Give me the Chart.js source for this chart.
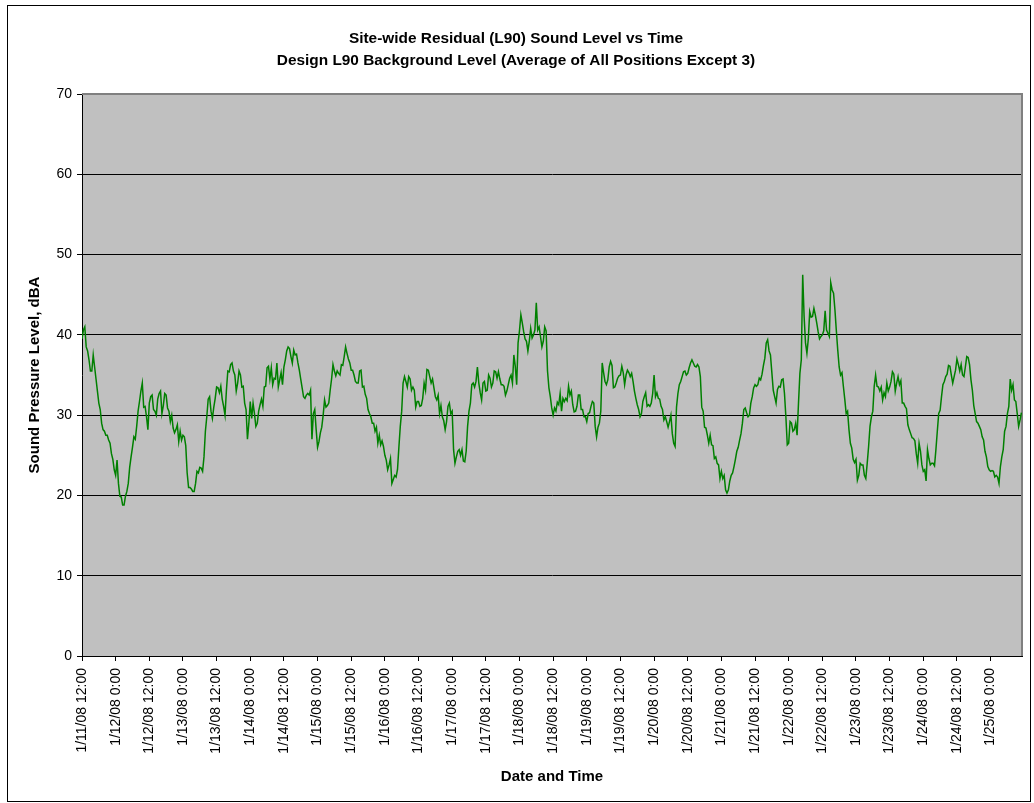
<!DOCTYPE html>
<html><head><meta charset="utf-8">
<script src="https://cdn.jsdelivr.net/npm/chart.js@4.4.1/dist/chart.umd.min.js"></script>
<style>html,body{margin:0;padding:0;background:#fff}#wrap{width:1034px;height:803px;position:relative}</style>
</head><body><div id="wrap"><canvas id="c" width="1034" height="803"></canvas></div>
<script>
const titleLines = ['Site-wide Residual (L90) Sound Level vs Time', 'Design L90 Background Level (Average of All Positions Except 3)'];
const yAxisTitle = 'Sound Pressure Level, dBA';
const xAxisTitle = 'Date and Time';
const tickLabels = ['1/11/08 12:00','1/12/08 0:00','1/12/08 12:00','1/13/08 0:00','1/13/08 12:00','1/14/08 0:00','1/14/08 12:00',
  '1/15/08 0:00','1/15/08 12:00','1/16/08 0:00','1/16/08 12:00','1/17/08 0:00','1/17/08 12:00','1/18/08 0:00','1/18/08 12:00',
  '1/19/08 0:00','1/19/08 12:00','1/20/08 0:00','1/20/08 12:00','1/21/08 0:00','1/21/08 12:00','1/22/08 0:00','1/22/08 12:00',
  '1/23/08 0:00','1/23/08 12:00','1/24/08 0:00','1/24/08 12:00','1/25/08 0:00'];
const tickStepHours = 12;
const yMin = 0, yMax = 70, yStep = 10;
const xMaxHours = 335.2;
// L90 levels (dBA) on the hour, hour 0 = 1/11/08 12:00
const levelsOnHour = [
  39.5, 41.0, 38.0, 35.5, 37.5, 34.5, 31.5, 29.0, 28.0, 27.5,
  26.5, 24.5, 22.5, 21.5, 19.8, 18.8, 20.5, 23.5, 26.0, 27.0,
  30.5, 33.0, 31.0, 29.8, 31.5, 32.5, 30.5, 32.0, 33.0, 31.2,
  32.5, 30.5, 30.0, 27.8, 28.8, 28.0, 27.5, 26.2, 21.0, 20.8,
  20.5, 23.0, 23.5, 23.0, 28.0, 32.0, 30.5, 31.0, 33.5, 32.8,
  32.0, 30.0, 35.5, 36.3, 35.5, 33.0, 35.5,
  33.5, 31.5, 27.0, 31.7, 31.5, 28.6, 30.5, 32.0, 33.5, 35.9,
  34.5, 33.8, 34.5, 33.5, 35.3, 36.0, 38.0, 38.3, 36.5, 37.5,
  36.5, 34.5, 32.3, 32.5, 32.5, 27.0, 30.7, 26.0, 27.8, 30.0,
  31.0, 31.5, 34.5, 35.5, 35.5, 35.0, 36.2, 38.5, 37.0, 35.6,
  35.0, 34.0, 35.5, 33.5, 32.6, 30.7, 29.8, 29.0, 28.5, 27.5,
  26.8, 25.0, 23.2, 24.6, 22.0,
  22.3, 26.0, 30.5, 34.8, 33.5, 34.5, 33.5, 31.0, 31.7, 31.2,
  34.0, 35.7, 34.8, 34.5, 32.3, 32.5, 31.2, 29.3, 29.2, 31.5,
  30.5, 24.0, 25.5, 25.0, 24.3, 25.5, 30.5, 33.8, 33.5, 36.0,
  32.8, 34.0, 33.0, 35.0, 33.5, 35.5, 34.6, 34.5, 33.8, 32.5,
  33.8, 35.0, 37.5, 33.8, 40.5, 41.5, 39.5, 38.0, 40.8, 40.0,
  44.0, 41.0, 38.5, 41.0, 35.5,
  32.3, 30.0, 30.5, 31.3, 30.5, 31.7, 31.8, 32.5, 31.3, 30.5,
  32.5, 30.7, 29.8, 29.2, 30.3, 31.7, 28.6, 28.5, 30.5, 35.3,
  33.8, 36.0, 36.2, 33.5, 34.6, 35.0, 35.3, 35.0, 35.3, 35.2,
  33.0, 31.3, 29.8, 31.7, 32.8, 31.3, 31.5, 35.0, 32.8, 32.0,
  30.7, 29.8, 28.5, 30.0, 26.5, 31.0, 33.8, 34.8, 35.5, 35.2,
  36.5, 36.5, 36.0, 36.0, 31.0,
  28.5, 27.5, 27.5, 26.2, 24.8, 23.8, 23.0, 22.5, 20.3, 21.8,
  22.8, 24.5, 26.0, 27.7, 30.7, 30.3, 30.0, 32.3, 33.8, 33.8,
  34.4, 36.2, 39.0, 38.0, 35.3, 32.3, 33.2, 33.5, 34.5, 29.8,
  26.5, 29.0, 28.2, 27.5, 35.2, 47.5, 39.0, 39.5, 42.2, 43.3,
  41.5, 39.5, 40.0, 43.0, 40.2, 46.5, 45.2, 40.5, 36.0, 35.3,
  32.0, 30.5, 26.5, 24.5, 24.5,
  22.5, 23.8, 22.5, 24.0, 28.6, 30.5, 35.0, 33.5, 33.5, 32.8,
  34.0, 33.5, 35.4, 33.0, 34.8, 34.3, 31.5, 30.8, 28.2, 27.2,
  26.8, 24.0, 25.5, 23.0, 21.8, 24.6, 24.0, 23.7, 28.0, 30.6,
  33.8, 34.8, 36.2, 35.0, 34.8, 37.0, 35.5, 35.0, 36.0, 37.2,
  34.4, 31.2, 29.2, 28.6, 27.3, 25.5, 23.6, 23.0, 23.0, 22.5,
  21.5, 24.8, 28.0, 30.2, 34.5, 33.8, 31.7, 28.6, 30.3
];
// L90 levels (dBA) on the half hour (entry i is hour i + 0.5)
const levelsHalfHour = [
  40.6, 38.5, 36.9, 35.5, 36.0, 33.0, 30.7, 28.2, 27.5, 26.9,
  25.2, 23.2, 24.4, 19.9, 18.8, 19.9, 21.5, 24.8, 27.3, 28.6,
  31.7, 34.0, 31.1, 28.2, 32.3, 30.7, 30.0, 32.7, 30.2, 32.7,
  30.9, 29.2, 28.4, 28.2, 26.7, 26.9, 27.3, 22.8, 21.0, 20.5,
  21.5, 22.8, 23.4, 24.8, 29.8, 32.3, 29.6, 32.1, 33.4, 33.6,
  31.1, 33.1, 35.4, 36.5, 35.0, 34.0, 35.0,
  33.6, 30.7, 29.0, 29.6, 30.2, 29.0, 31.3, 31.1, 33.6, 36.1,
  35.9, 34.6, 36.5, 34.4, 33.8, 36.9, 38.5, 37.3, 38.1, 37.6,
  35.6, 33.4, 32.1, 32.7, 33.1, 30.2, 28.2, 26.7, 28.5, 31.9,
  31.2, 33.1, 36.3, 34.9, 35.2, 36.3, 37.3, 37.7, 36.5, 35.6,
  34.2, 34.0, 35.6, 33.6, 32.1, 30.2, 29.0, 28.0, 26.5, 26.3,
  26.1, 24.4, 23.8, 21.5, 22.5,
  23.2, 28.6, 34.0, 34.2, 34.8, 33.1, 33.1, 31.7, 31.1, 32.1,
  33.1, 35.6, 34.0, 33.4, 31.9, 30.2, 29.8, 28.2, 31.1, 30.2,
  25.7, 24.8, 25.7, 25.7, 24.2, 28.6, 31.5, 34.0, 34.2, 34.0,
  31.9, 34.2, 33.1, 34.6, 34.0, 35.4, 35.4, 33.8, 33.6, 33.0,
  34.6, 34.0, 36.1, 39.0, 42.5, 40.4, 39.2, 39.2, 39.6, 40.6,
  40.6, 39.8, 39.2, 40.5,
  33.4, 30.9, 30.9, 31.6, 32.7, 32.1, 32.1, 33.6, 33.0, 30.4,
  31.1, 32.5, 30.7, 29.8, 30.2, 31.1, 31.5, 27.3, 29.0, 36.5,
  34.2, 34.4, 36.7, 33.4, 34.0, 34.9, 36.1, 33.8, 35.6, 34.8,
  34.2, 32.1, 30.7, 30.2, 32.3, 31.1, 31.1, 32.7, 32.3, 32.1,
  31.1, 29.4, 29.2, 29.2, 27.7, 26.1, 32.7, 34.2, 35.4, 35.0,
  35.9, 36.9, 36.1, 36.3, 34.8,
  30.5, 28.4, 26.5, 26.3, 24.6, 24.0, 22.1, 22.1, 20.7, 20.7,
  22.5, 23.6, 25.5, 26.9, 29.0, 30.9, 29.8, 31.5, 33.4, 33.6,
  34.6, 35.1, 37.1, 39.4, 37.5, 33.1, 31.5, 33.6, 34.4, 32.7,
  26.3, 29.2, 28.0, 29.0, 31.5, 36.9, 42.3, 37.7, 42.9, 42.3,
  42.5, 40.4, 39.8, 40.5, 40.6, 39.8, 45.6, 43.1, 38.1, 35.0,
  33.6, 30.2, 28.2, 25.9, 24.1,
  21.9, 24.0, 23.8, 22.1, 26.1, 29.8, 33.6, 33.6, 33.0, 31.9,
  32.3, 33.0, 34.2, 35.1, 34.0, 33.8, 31.5, 31.1, 28.8, 27.7,
  27.1, 25.2, 26.5, 23.8, 23.2, 25.7, 23.8, 24.0, 25.7, 30.2,
  32.3, 34.2, 35.1, 36.1, 34.0, 35.6, 36.3, 36.3, 34.8, 37.3,
  36.3, 33.1, 30.2, 29.0, 28.2, 26.9, 24.8, 23.2, 23.1, 22.3,
  22.3, 23.6, 25.7, 28.6, 31.1, 33.1, 31.9, 30.2, 29.4
];

const points = [];
levelsOnHour.forEach((v, i) => {
  points.push({x: i, y: v});
  if (i < levelsHalfHour.length) points.push({x: i + 0.5, y: levelsHalfHour[i]});
});

const FONT = '"Liberation Sans", Arial, sans-serif';
const framePlugin = {
  id: 'frame',
  beforeDraw(chart) {
    const {ctx, chartArea: a} = chart;
    ctx.save();
    ctx.fillStyle = '#fff';
    ctx.fillRect(0, 0, chart.width, chart.height);
    ctx.strokeStyle = '#000';
    ctx.lineWidth = 1;
    ctx.strokeRect(7.5, 5.5, 1023, 796);
    ctx.fillStyle = '#C0C0C0';
    ctx.fillRect(a.left, a.top, a.right - a.left, a.bottom - a.top);
    ctx.restore();
  },
  beforeDatasetsDraw(chart) {
    const {ctx, chartArea: a} = chart;
    ctx.save();
    ctx.strokeStyle = '#808080';
    ctx.lineWidth = 2;
    ctx.beginPath();
    ctx.moveTo(a.left, a.top);
    ctx.lineTo(a.right, a.top);
    ctx.lineTo(a.right, a.bottom);
    ctx.stroke();
    ctx.restore();
  }
};

new Chart(document.getElementById('c'), {
  type: 'line',
  data: {
    datasets: [{
      data: points,
      borderColor: '#008000',
      borderWidth: 1.5,
      pointRadius: 0,
      tension: 0,
      fill: false
    }]
  },
  options: {
    responsive: false,
    animation: false,
    events: [],
    layout: {padding: {left: 10, right: 12, top: 0, bottom: 0}},
    plugins: {
      legend: {display: false},
      tooltip: {enabled: false},
      title: {
        display: true,
        text: titleLines,
        color: '#000',
        font: {family: FONT, size: 15.4, weight: 'bold', lineHeight: 1.43},
        padding: {top: 28, bottom: 22}
      }
    },
    scales: {
      x: {
        type: 'linear',
        position: 'bottom',
        min: 0,
        max: xMaxHours,
        afterBuildTicks: s => { s.ticks = tickLabels.map((_, i) => ({value: i * tickStepHours})); },
        afterFit: s => { s.height = 147; },
        ticks: {
          autoSkip: false, minRotation: 90, maxRotation: 90, padding: 7, color: '#000',
          font: {family: FONT, size: 14},
          callback: (v, i) => tickLabels[i]
        },
        grid: {drawOnChartArea: false, drawTicks: true, tickLength: 5, tickColor: '#000', color: '#000'},
        border: {color: '#000', width: 1},
        title: {display: true, text: xAxisTitle, color: '#000', font: {family: FONT, size: 15, weight: 'bold'}, padding: {top: 0, bottom: 17}}
      },
      y: {
        min: yMin,
        max: yMax,
        afterFit: s => { s.width = 72; },
        ticks: {stepSize: yStep, padding: 5, color: '#000', font: {family: FONT, size: 14}},
        grid: {color: '#000', tickColor: '#000', tickLength: 5, lineWidth: 1},
        border: {color: '#000', width: 1},
        title: {display: true, text: yAxisTitle, color: '#000', font: {family: FONT, size: 15, weight: 'bold'}, padding: {top: 16, bottom: 0}}
      }
    }
  },
  plugins: [framePlugin]
});
</script></body></html>
